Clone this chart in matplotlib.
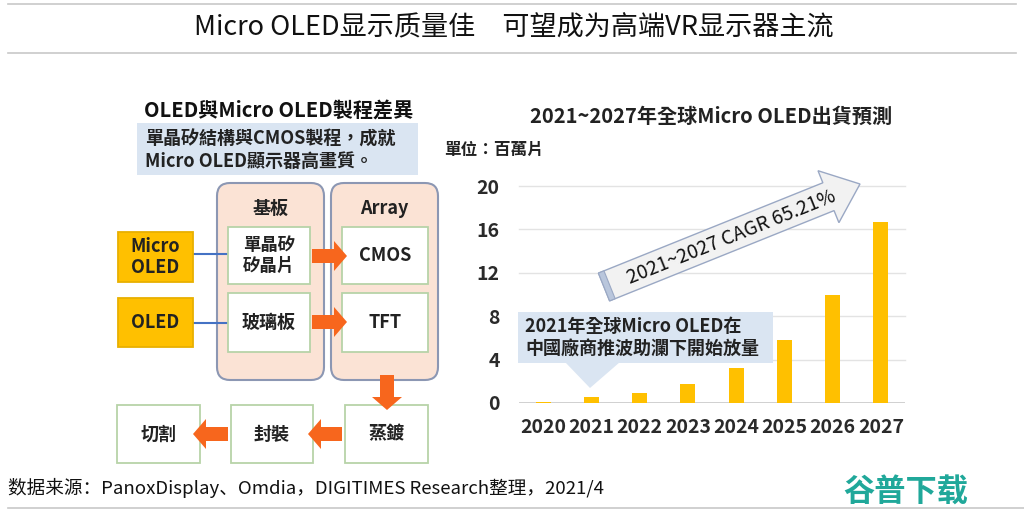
import numpy as np
import matplotlib
matplotlib.use("Agg")
import matplotlib.pyplot as plt
from matplotlib.patches import FancyBboxPatch, Rectangle, FancyArrow, Polygon

plt.rcParams['font.family'] = ['Noto Sans CJK TC', 'DejaVu Sans']

# data
years = ["2020", "2021", "2022", "2023", "2024", "2025", "2026", "2027"]
shipments = [0.12, 0.52, 0.9, 1.75, 3.2, 5.8, 10.0, 16.7]
yticks = [0, 4, 8, 12, 16, 20]

header = "Micro OLED显示质量佳　可望成为高端VR显示器主流"
footer = "数据来源：PanoxDisplay、Omdia，DIGITIMES Research整理，2021/4"
chart_title = "2021~2027年全球Micro OLED出貨預測"
unit_label = "單位：百萬片"
cagr_label = "2021~2027 CAGR 65.21%"
callout = "2021年全球Micro OLED在\n中國廠商推波助瀾下開始放量"
diag_title = "OLED與Micro OLED製程差異"
diag_note = "單晶矽結構與CMOS製程，成就\nMicro OLED顯示器高畫質。"

W, H = 1024, 518
BAR = "#ffc000"
ORANGE = "#f7661d"
LIGHTBLUE = "#dae5f2"

fig = plt.figure(figsize=(W / 100, H / 100), dpi=100)

def fx(px): return px / W
def fy(py): return 1 - py / H

# bar chart
ax = fig.add_axes([fx(519), fy(403), fx(905) - fx(519), fy(186) - fy(403)])
ax.set_facecolor("none")
x = np.arange(len(years))
ax.bar(x, shipments, width=0.31, color=BAR, zorder=3)
ax.set_xlim(-0.5, 7.5)
ax.set_ylim(0, 20)
for v in yticks[1:]:
    ax.axhline(v, color="#e3e3e3", lw=1, zorder=1, clip_on=False)
ax.axhline(0, color="#c8c8c8", lw=1.2, zorder=2)
ax.set_xticks(x)
ax.set_xticklabels(years, fontsize=14, fontweight="bold", color="#2a2a2a")
ax.set_yticks(yticks)
ax.set_yticklabels([str(v) for v in yticks], fontsize=14, fontweight="bold", color="#2a2a2a")
ax.tick_params(length=0, pad=11)
ax.tick_params(axis="y", pad=14)
for s in ax.spines.values():
    s.set_visible(False)

# overlay canvas in pixel coords
bg = fig.add_axes([0, 0, 1, 1])
bg.set_facecolor("none")
bg.set_xlim(0, W)
bg.set_ylim(H, 0)
bg.axis("off")

# header / footer
for yy, x1 in [(4, 1016), (53, 1016), (508, 1024)]:
    bg.plot([8, x1], [yy, yy], color="#c8c8c8", lw=1.2)
bg.text(514, 28, header, fontsize=19.5, ha="center", va="center", color="#111111",
        family=["Noto Sans CJK SC", "DejaVu Sans"])
bg.text(8, 488, footer, fontsize=13.4, ha="left", va="center", color="#111111",
        family=["Noto Sans CJK SC", "DejaVu Sans"])
bg.text(906, 493, "谷普下载", fontsize=22.5, ha="center", va="center", color="#20a89a",
        fontweight="heavy", family=["Noto Sans CJK SC", "DejaVu Sans"])

# chart texts
bg.text(711, 116, chart_title, fontsize=14.5, fontweight="bold", ha="center", va="center", color="#222222")
bg.text(444, 150, unit_label, fontsize=12, fontweight="bold", ha="left", va="center", color="#222222")

# CAGR arrow
bg.add_patch(FancyArrow(604, 287, 256, -103, width=30, head_width=56, head_length=34,
                        length_includes_head=True, facecolor="#f2f2f2", edgecolor="#9aa8c4",
                        lw=1, zorder=5))
ang = np.arctan2(103, 256)
nx, ny = np.sin(ang), np.cos(ang)
tail = [(604 - nx * 15, 287 - ny * 15), (604 + nx * 15, 287 + ny * 15)]
bg.add_patch(Polygon([tail[0], tail[1], (tail[1][0] + 6 * np.cos(ang), tail[1][1] - 6 * np.sin(ang)),
                      (tail[0][0] + 6 * np.cos(ang), tail[0][1] - 6 * np.sin(ang))],
                     closed=True, facecolor="#b9c6dc", edgecolor="#9aa8c4", lw=0.8, zorder=6))
bg.text(731, 237, cagr_label, fontsize=14, rotation=np.degrees(ang),
        rotation_mode="anchor", ha="center", va="center", color="#111111", zorder=7)

# callout
bg.add_patch(Rectangle((518, 312), 255, 51, facecolor=LIGHTBLUE, edgecolor="none", zorder=5))
bg.add_patch(Polygon([(565, 362), (620, 362), (590, 388)], closed=True,
                     facecolor=LIGHTBLUE, edgecolor="none", zorder=5))
bg.text(525, 338, callout, fontsize=13, fontweight="bold", ha="left", va="center",
        linespacing=1.25, color="#222222", zorder=6)

# process diagram
bg.text(279, 110, diag_title, fontsize=14.5, fontweight="bold", ha="center", va="center", color="#111111")
bg.add_patch(Rectangle((137, 123), 281, 52, facecolor=LIGHTBLUE, edgecolor="none"))
bg.text(145, 150, diag_note, fontsize=13, fontweight="bold", ha="left", va="center",
        linespacing=1.2, color="#222222")

for x0, lab in [(217, "基板"), (331, "Array")]:
    bg.add_patch(FancyBboxPatch((x0, 183), 107, 197, boxstyle="round,pad=0,rounding_size=13",
                                facecolor="#fbe3d5", edgecolor="#8c97b3", lw=1.5))
    bg.text(x0 + 53.5, 208, lab, fontsize=13, fontweight="bold", ha="center", va="center", color="#222222")

def box(x0, y0, w, h, label, fs=13, fc="white", ec="#b7d3a8"):
    bg.add_patch(Rectangle((x0, y0), w, h, facecolor=fc, edgecolor=ec, lw=1.3, zorder=3))
    bg.text(x0 + w / 2, y0 + h / 2, label, fontsize=fs, fontweight="bold", ha="center",
            va="center", linespacing=1.15, color="#222222", zorder=4)

box(228, 227, 82, 57, "單晶矽\n矽晶片", fs=12.5)
box(228, 293, 82, 59, "玻璃板")
box(342, 227, 86, 57, "CMOS")
box(342, 293, 86, 59, "TFT")
box(117, 405, 83, 58, "切割")
box(231, 405, 82, 58, "封裝")
box(345, 405, 83, 58, "蒸鍍")
box(118, 232, 75, 50, "Micro\nOLED", fc=BAR, ec="#e8b000")
box(118, 298, 75, 49, "OLED", fc=BAR, ec="#e8b000")

bg.plot([193, 228], [254, 254], color="#4472c4", lw=1.5)
bg.plot([193, 228], [323, 323], color="#4472c4", lw=1.5)

def orange(x0, y0, dx, dy):
    bg.add_patch(FancyArrow(x0, y0, dx, dy, width=14, head_width=30, head_length=13,
                            length_includes_head=True, facecolor=ORANGE, edgecolor="none", zorder=5))

orange(312, 256, 35, 0)
orange(312, 322, 35, 0)
orange(387, 375, 0, 35)
orange(342, 434, -34, 0)
orange(228, 434, -35, 0)

fig.savefig("out.png", dpi=100)
